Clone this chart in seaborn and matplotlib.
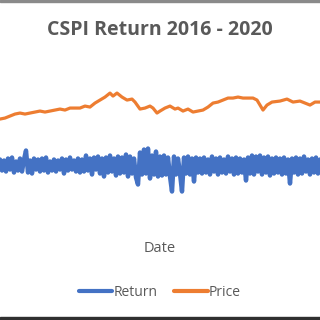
import matplotlib
matplotlib.use("Agg")
import matplotlib.pyplot as plt
import seaborn as sns
import pandas as pd
from matplotlib.patches import Rectangle
from matplotlib.lines import Line2D

# ---- data ----
price_day = [0, 20, 40, 60, 80, 100, 120, 140, 160, 180, 200, 220, 240, 260, 280, 300,
             320, 340, 360, 380, 400, 420, 440, 452, 468, 488, 508, 528, 540, 560, 580,
             600, 612, 628, 640, 660, 680, 700, 712, 732, 752, 772, 792, 812, 832, 852,
             872, 892, 912, 932, 952, 972, 992, 1012, 1028, 1040, 1052, 1068, 1088, 1120,
             1148, 1172, 1200, 1220, 1240, 1260, 1280]
price_val = [5640, 5680, 5760, 5840, 5880, 5840, 5880, 5920, 5960, 5920, 5960, 6000, 6040,
             6000, 6080, 6080, 6080, 6160, 6120, 6280, 6400, 6520, 6680, 6560, 6680, 6520,
             6400, 6440, 6320, 6040, 6080, 6160, 6080, 5880, 5960, 6080, 6160, 6040, 6080,
             5960, 6040, 5920, 5960, 6000, 6120, 6280, 6320, 6400, 6480, 6480, 6520, 6480,
             6480, 6480, 6400, 6200, 6000, 6200, 6320, 6360, 6440, 6320, 6360, 6280, 6200,
             6320, 6320]
ret_val = [0.5, -0.6, 0.4, -0.7, 0.6, -0.5, 0.7, -0.8, 0.3, -0.6,
           0.6, -0.7, 0.5, 1.4, -0.8, 0.4, -0.9, 0.6, -0.5, 0.5,
           -0.7, 0.6, -0.6, 0.7, -0.8, 0.3, -0.6, 0.5, -0.7, 0.4,
           -0.5, 0.6, -0.9, 0.5, -0.6, 0.7, -0.5, 0.4, -0.7, 0.6,
           -0.8, 0.5, -0.7, 0.9, -0.6, 0.6, -1.0, 0.7, -0.5, 0.8,
           -0.9, 0.6, -1.2, 0.7, -0.8, 0.9, -0.7, 0.6, -1.1, 0.8,
           -0.9, 0.7, -0.8, 1.0, -1.2, 0.8, -0.9, 0.6, -1.3, -2.0,
           1.2, -1.0, 1.5, -0.9, 1.6, -1.4, 0.9, -1.0, 1.3, -1.2,
           0.8, -1.1, 0.9, -1.0, 0.7, -1.2, -2.7, 0.8, -1.0, 0.6,
           -0.9, -2.7, 0.7, -0.9, 0.8, -1.0, 0.6, -1.7, 0.7, -0.8,
           0.6, -0.9, 0.7, -0.8, 0.5, -1.0, 0.8, -0.7, 0.6, -1.0,
           0.7, -0.8, 0.5, -0.9, 0.8, -0.7, 0.6, -1.0, 0.7, -0.9,
           0.6, -0.8, 0.5, -1.6, 0.7, -0.9, 0.9, -1.0, 0.8, -0.7,
           0.9, -1.0, 0.7, -0.8, 0.8, -1.1, 0.6, -0.9, 0.7, -0.8,
           0.6, -1.0, 0.7, -0.9, 0.5, -1.9, 0.6, -0.8, 0.7, -1.0,
           0.6, -0.9, 0.8, -0.7, 0.5, -1.0, 0.6, -0.8, 0.7, -0.9,
           0.5]
ret_day = [i * 8 for i in range(len(ret_val))]

title = "CSPI Return 2016 - 2020"
xlabel = "Date"
series_names = ["Return", "Price"]
colors = ["#4472C4", "#ED7D31"]

sns.set_theme(style="white")
plt.rcParams["font.family"] = ["Open Sans", "DejaVu Sans"]

fig = plt.figure(figsize=(3.2, 3.2), dpi=100)
ax = fig.add_axes([0.0, 0.375, 1.0, 0.406])
ax2 = ax.twinx()

df_r = pd.DataFrame({"day": ret_day, "ret": ret_val})
df_p = pd.DataFrame({"day": price_day, "price": price_val})
sns.lineplot(data=df_p, x="day", y="price", ax=ax, color=colors[1], linewidth=2.3)
sns.lineplot(data=df_r, x="day", y="ret", ax=ax2, color=colors[0], linewidth=3.2)

ax.set_xlim(0, 1280)
ax.set_ylim(2400, 7600)
ax2.set_ylim(-3.55, 9.45)
for a in (ax, ax2):
    a.set_axis_off()

gray = "#595959"
fig.text(0.5, 1 - 30 / 320, title, ha="center", va="center", fontsize=14,
         fontweight="bold", color=gray)
fig.text(0.5, 1 - 248 / 320, xlabel, ha="center", va="center", fontsize=10.5, color=gray)

handles = [Line2D([0], [0], color=c, lw=3) for c in colors]
leg = fig.legend(handles, series_names, loc="center", bbox_to_anchor=(0.5, 1 - 292 / 320),
                 ncol=2, frameon=False, fontsize=10, handlelength=2.4, handletextpad=0.1,
                 columnspacing=1.2)
for t in leg.get_texts():
    t.set_color(gray)

# image frame artefacts
fig.patches.append(Rectangle((0, 1 - 2 / 320), 1, 2 / 320, transform=fig.transFigure,
                             color="#8a8a8a", zorder=0))
fig.patches.append(Rectangle((0, 0), 1, 3.5 / 320, transform=fig.transFigure,
                             color="#303030", zorder=0))

fig.savefig("out.png", dpi=100)
